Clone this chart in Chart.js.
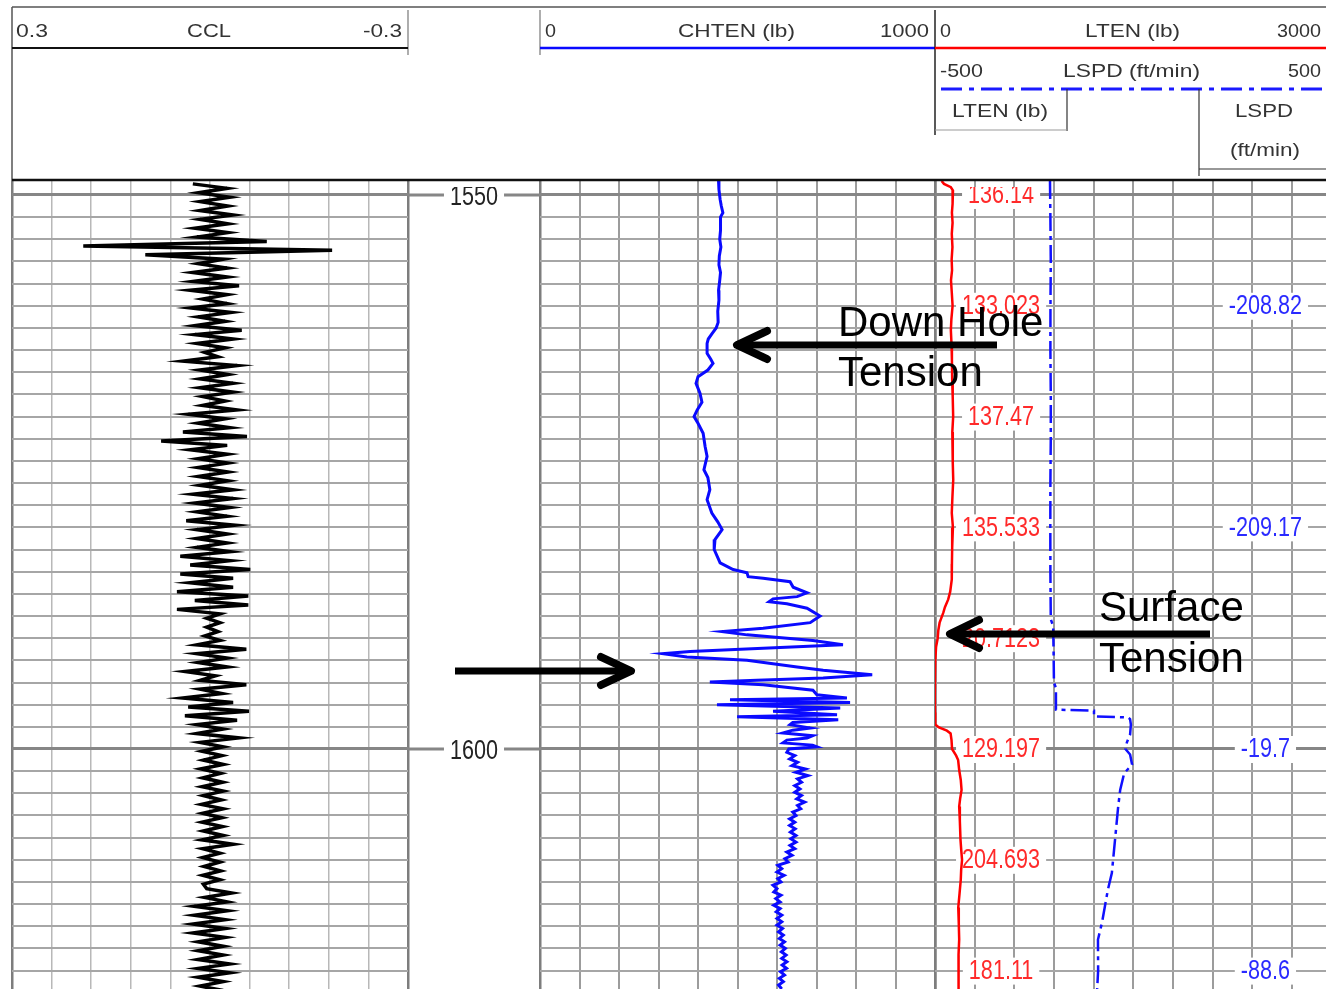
<!DOCTYPE html>
<html>
<head>
<meta charset="utf-8">
<title>Tension log</title>
<script src="https://cdn.jsdelivr.net/npm/chart.js"></script>
<style>
  html, body { margin: 0; padding: 0; background: #fff; overflow: hidden; }
  #page { position: relative; width: 1326px; height: 989px; overflow: hidden; background: #fff; }
  #page canvas { position: absolute; }
  #overlay { position: absolute; left: 0; top: 0; pointer-events: none; }
</style>
</head>
<body>
<div id="page">
  <canvas id="cclChart" width="420" height="808" style="left:0;top:181px"></canvas>
  <canvas id="chtenChart" width="529" height="808" style="left:408px;top:181px"></canvas>
  <canvas id="ltenChart" width="401" height="808" style="left:925px;top:181px"></canvas>

  <svg id="overlay" width="1326" height="989" xmlns="http://www.w3.org/2000/svg">
    <!-- header frame -->
    <g fill="none">
      <line x1="12" y1="7" x2="1326" y2="7" stroke="#555" stroke-width="1.5"/>
      <line x1="12" y1="7" x2="12" y2="181" stroke="#555" stroke-width="1.5"/>
      <line x1="12" y1="180" x2="1326" y2="180" stroke="#111" stroke-width="2.5"/>
      <line x1="408" y1="10" x2="408" y2="55" stroke="#777" stroke-width="1.2"/>
      <line x1="12" y1="48" x2="408" y2="48" stroke="#111" stroke-width="2"/>
      <line x1="540" y1="10" x2="540" y2="55" stroke="#777" stroke-width="1.2"/>
      <line x1="540" y1="48" x2="935" y2="48" stroke="#0a0aff" stroke-width="2.5"/>
      <line x1="935" y1="10" x2="935" y2="135" stroke="#222" stroke-width="1.5"/>
      <line x1="935" y1="48" x2="1326" y2="48" stroke="#ff0000" stroke-width="2.5"/>
      <line x1="941" y1="89" x2="1326" y2="89" stroke="#1a1aff" stroke-width="3" stroke-dasharray="21 7 5 7"/>
      <line x1="1067" y1="89" x2="1067" y2="131" stroke="#333" stroke-width="1.2"/>
      <line x1="935" y1="130" x2="1067" y2="130" stroke="#999" stroke-width="1.2"/>
      <line x1="1199" y1="89" x2="1199" y2="176" stroke="#333" stroke-width="1.2"/>
      <line x1="1199" y1="169" x2="1326" y2="169" stroke="#333" stroke-width="1.2"/>
    </g>
    <g font-family="'Liberation Sans', Arial, sans-serif" font-size="19" fill="#333">
      <text x="16" y="37" textLength="32" lengthAdjust="spacingAndGlyphs">0.3</text>
      <text x="187" y="37" textLength="44" lengthAdjust="spacingAndGlyphs">CCL</text>
      <text x="363" y="37" textLength="39" lengthAdjust="spacingAndGlyphs">-0.3</text>
      <text x="545" y="37" textLength="11" lengthAdjust="spacingAndGlyphs">0</text>
      <text x="678" y="37" textLength="117" lengthAdjust="spacingAndGlyphs">CHTEN (lb)</text>
      <text x="880" y="37" textLength="49" lengthAdjust="spacingAndGlyphs">1000</text>
      <text x="940" y="37" textLength="11" lengthAdjust="spacingAndGlyphs">0</text>
      <text x="1085" y="37" textLength="95" lengthAdjust="spacingAndGlyphs">LTEN (lb)</text>
      <text x="1277" y="37" textLength="44" lengthAdjust="spacingAndGlyphs">3000</text>
      <text x="940" y="77" textLength="43" lengthAdjust="spacingAndGlyphs">-500</text>
      <text x="1063" y="77" textLength="137" lengthAdjust="spacingAndGlyphs">LSPD (ft/min)</text>
      <text x="1288" y="77" textLength="33" lengthAdjust="spacingAndGlyphs">500</text>
      <text x="952" y="117" textLength="96" lengthAdjust="spacingAndGlyphs">LTEN (lb)</text>
      <text x="1235" y="117" textLength="58" lengthAdjust="spacingAndGlyphs">LSPD</text>
      <text x="1230" y="156" textLength="70" lengthAdjust="spacingAndGlyphs">(ft/min)</text>
    </g>

    <!-- call-outs -->
    <g font-family="'Liberation Sans', Arial, sans-serif" font-size="42" fill="#000">
      <text x="838" y="336">Down Hole</text>
      <text x="838" y="386">Tension</text>
      <text x="1099" y="621">Surface</text>
      <text x="1099" y="672">Tension</text>
    </g>
    <g stroke="#000" stroke-width="7" fill="none">
      <line x1="997" y1="345" x2="740" y2="345"/>
      <line x1="1210" y1="634" x2="952" y2="634"/>
      <line x1="455" y1="671" x2="628" y2="671"/>
    </g>
    <g stroke="#000" stroke-width="8" fill="none" stroke-linecap="round" stroke-linejoin="round">
      <polyline points="767,331 737,345 767,359"/>
      <polyline points="979,620 950,634 979,648"/>
      <polyline points="601,657 631,671 601,685"/>
    </g>
  </svg>
</div>

<script>
// depth window shown (ft) and grid
const depthTop = 1548.74;
const depthBottom = 1621.66;
const depthGrid = [];
for (let d = 1550; d <= 1620; d += 2) depthGrid.push(d);
const depthLabels = [1550, 1600];

// track grids
const cclGrid = [0.3, 0.24, 0.18, 0.12, 0.06, 0, -0.06, -0.12, -0.18, -0.24, -0.3];
const chtenGrid = [0, 100, 200, 300, 400, 500, 600, 700, 800, 900, 1000];
const ltenGrid = [0, 300, 600, 900, 1200, 1500, 1800, 2100, 2400, 2700];

// CCL, sampled every 0.4 ft from 1549.0 ft
const cclTop = 1549.0;
const cclStep = 0.4;
const cclValue = [
  0.026, -0.026, 0.017, -0.030, 0.015, -0.027, 0.015, -0.035, 0.015, -0.027,
  0.023, -0.027, 0.020, -0.086, 0.192, -0.185, 0.098, -0.020, 0.018, -0.026,
  0.026, -0.026, 0.026, -0.044, 0.030, -0.026, 0.011, -0.026, 0.029, -0.032,
  0.018, -0.023, 0.023, -0.048, 0.023, -0.035, 0.020, -0.023, 0.008, -0.012,
  0.041, -0.041, 0.015, -0.027, 0.015, -0.035, 0.015, -0.035, 0.011, -0.023,
  0.011, -0.041, 0.033, -0.023, 0.018, -0.030, 0.041, -0.056, 0.074, -0.026,
  0.030, -0.026, 0.018, -0.027, 0.018, -0.027, 0.018, -0.027, 0.015, -0.035,
  0.026, -0.035, 0.023, -0.030, 0.020, -0.026, 0.036, -0.038, 0.020, -0.026,
  0.020, -0.026, 0.020, -0.030, 0.045, -0.030, 0.030, -0.061, 0.045, -0.035,
  0.030, -0.035, 0.050, -0.058, 0.023, -0.058, 0.050, -0.015, 0.005, -0.015,
  0.005, -0.012, 0.008, -0.015, 0.020, -0.055, 0.020, -0.026, 0.018, -0.026,
  0.038, -0.008, 0.015, -0.055, 0.015, -0.018, 0.041, -0.035, 0.033, -0.059,
  0.038, -0.041, 0.020, -0.020, 0.020, -0.044, 0.015, -0.020, 0.012, -0.018,
  0.010, -0.020, 0.014, -0.016, 0.011, -0.019, 0.012, -0.020, 0.010, -0.017,
  0.013, -0.020, 0.011, -0.018, 0.012, -0.019, 0.010, -0.020, 0.012, -0.035,
  0.011, -0.015, 0.011, -0.015, 0.009, -0.016, 0.011, -0.015, 0.010, 0.005,
  -0.033, 0.008, -0.026, 0.024, -0.026, 0.024, -0.023, 0.026, -0.023, 0.026,
  -0.023, 0.018, -0.020, 0.018, -0.020, 0.018, -0.030, 0.018, -0.030, 0.018,
  -0.020, 0.015, -0.020
];

// CHTEN (lb)
const chtenDepth = [
  1548.74, 1549.5, 1550.4, 1551.0, 1551.6, 1552.0, 1552.4, 1553.2, 1554.0, 1554.7,
  1555.5, 1556.3, 1557.0, 1557.7, 1558.6, 1559.5, 1560.5, 1561.5, 1562.0, 1562.5,
  1563.0, 1563.4, 1564.3, 1564.8, 1565.2, 1565.8, 1566.4, 1567.0, 1567.9, 1568.7,
  1569.4, 1570.0, 1570.6, 1571.5, 1572.7, 1573.6, 1574.8, 1575.5, 1576.6, 1577.5,
  1578.7, 1579.5, 1580.2, 1581.1, 1582.0, 1583.2, 1583.8, 1584.1, 1584.45, 1584.6,
  1584.9, 1585.4, 1585.9, 1586.25, 1586.45, 1586.7, 1586.9, 1587.3, 1588.0, 1588.6,
  1589.1, 1589.4, 1589.7, 1590.2, 1590.6, 1590.9, 1591.2, 1591.4, 1591.7, 1592.0,
  1592.6, 1592.9, 1593.3, 1593.6, 1593.8, 1593.95, 1594.2, 1594.7, 1595.1, 1595.4,
  1595.55, 1595.8, 1596.0, 1596.3, 1596.6, 1596.9, 1597.1, 1597.35, 1597.6, 1597.8,
  1598.1, 1598.3, 1598.55, 1598.8, 1599.0, 1599.2, 1599.45, 1599.65, 1599.8, 1600.0,
  1600.3, 1600.6, 1600.9, 1601.2, 1601.5, 1601.8, 1602.1, 1602.4, 1602.7, 1603.0,
  1603.3, 1603.6, 1603.9, 1604.2, 1604.5, 1604.8, 1605.1, 1605.4, 1605.7, 1606.0,
  1606.3, 1606.6, 1606.9, 1607.2, 1607.5, 1607.8, 1608.1, 1608.4, 1608.7, 1609.0,
  1609.3, 1609.6, 1609.9, 1610.2, 1610.5, 1610.8, 1611.1, 1611.4, 1611.7, 1612.0,
  1612.3, 1612.6, 1612.9, 1613.2, 1613.5, 1613.8, 1614.1, 1614.4, 1614.7, 1615.0,
  1615.3, 1615.6, 1615.9, 1616.2, 1616.5, 1616.8, 1617.1, 1617.4, 1617.7, 1618.0,
  1618.3, 1618.6, 1618.9, 1619.2, 1619.5, 1619.8, 1620.1, 1620.4, 1620.7, 1621.0,
  1621.3, 1621.66
];
const chtenValue = [
  452, 453, 456, 459, 463, 457, 456, 458, 455, 458,
  454, 453, 457, 455, 452, 453, 450, 451, 446, 436,
  426, 423, 423, 432, 438, 425, 400, 395, 405, 410,
  398, 390, 400, 413, 418, 423, 415, 425, 430, 423,
  435, 450, 461, 443, 441, 456, 489, 524, 527, 565,
  633, 641, 676, 651, 590, 580, 625, 676, 709, 684,
  565, 461, 524, 691, 767, 565, 380, 311, 372, 524,
  651, 717, 841, 717, 549, 430, 565, 691, 701, 777,
  481, 785, 448, 760, 590, 752, 499, 755, 640, 633,
  684, 640, 615, 690, 676, 625, 615, 690, 701, 630,
  625, 645, 632, 652, 638, 672, 648, 678, 652, 662,
  645, 658, 645, 662, 650, 670, 652, 660, 640, 648,
  632, 645, 632, 646, 634, 648, 635, 648, 633, 645,
  625, 638, 620, 628, 602, 612, 600, 618, 602, 610,
  590, 600, 592, 610, 597, 608, 592, 608, 598, 612,
  600, 612, 600, 614, 604, 616, 606, 619, 608, 621,
  611, 623, 612, 625, 613, 624, 609, 619, 606, 616,
  604, 612
];

// LTEN (lb)
const ltenDepth = [
  1548.74, 1549.0, 1549.3, 1549.6, 1550.0, 1550.8, 1551.6, 1552.5, 1553.5, 1554.7,
  1555.8, 1556.8, 1557.7, 1558.8, 1560.0, 1561.2, 1562.2, 1563.5, 1564.9, 1566.7,
  1568.2, 1570.0, 1571.4, 1572.8, 1574.2, 1575.7, 1577.2, 1578.7, 1580.0, 1581.8,
  1583.3, 1584.7, 1585.8, 1586.5, 1587.2, 1587.7, 1588.6, 1589.3, 1590.0, 1590.8,
  1592.0, 1593.8, 1595.3, 1596.7, 1597.8, 1598.05, 1598.35, 1598.6, 1599.2, 1600.0,
  1600.6, 1601.0, 1601.9, 1602.8, 1603.7, 1604.5, 1605.2, 1606.5, 1608.2, 1609.2,
  1610.0, 1610.9, 1611.8, 1613.0, 1614.3, 1615.8, 1617.2, 1618.6, 1620.0, 1620.8,
  1621.66
];
const ltenValue = [
  50, 68, 120, 136, 136.14, 130, 128, 133, 127, 132,
  126, 129, 121, 127, 133.023, 124, 120, 125, 128, 130,
  134, 137.47, 131, 133, 136, 138, 132, 127, 135.533, 130,
  128, 127, 115, 100, 75, 63, 35, 25, 20.7123, 8,
  2, 0, -1, 0, 2, 30, 90, 118, 125, 129.197,
  160, 175, 183, 195, 201, 190, 183, 188, 193, 199,
  204.693, 198, 195, 186, 176, 180, 183, 178, 181.11, 178,
  176
];

// LSPD (ft/min)
const lspdDepth = [
  1548.74, 1552, 1556, 1560, 1564, 1568, 1572, 1576, 1580, 1584,
  1588.3, 1588.9, 1591, 1594.0, 1594.5, 1596.45, 1596.55, 1597.05, 1597.15, 1597.3,
  1597.8, 1598.7, 1599.4, 1600, 1600.5, 1601.4, 1602.2, 1603.7, 1605.2, 1608.2,
  1611.2, 1612.7, 1615.7, 1617.2, 1620, 1621.66
];
const lspdValue = [
  -210, -209, -208, -208.82, -209, -208, -208, -209, -209.17, -209,
  -208, -202, -201, -200, -195, -195, -99, -99, -13, -8,
  -6, -8, -16, -19.7, -8, -3, -23, -33, -38, -46,
  -54, -64, -79, -89, -88.6, -91
];

// value read-outs printed in the LTEN/LSPD track
const ltenMarkDepth = [1550, 1560, 1570, 1580, 1590, 1600, 1610, 1620];
const ltenMarkText = ['136.14', '133.023', '137.47', '135.533', '20.7123', '129.197', '204.693', '181.11'];
const lspdMarkDepth = [1560, 1580, 1600, 1620];
const lspdMarkText = ['-208.82', '-209.17', '-19.7', '-88.6'];

const toPoints = (depths, values) => values.map((v, i) => ({ x: v, y: depths[i] }));
const cclDepth = cclValue.map((v, i) => cclTop + i * cclStep);

function narrowLabel(ctx, text, cx, cy, color) {
  ctx.save();
  ctx.font = '27px "Liberation Sans", Arial, sans-serif';
  const w = ctx.measureText(text).width * 0.8;
  ctx.fillStyle = '#ffffff';
  ctx.fillRect(cx - w / 2 - 6, cy - 13, w + 12, 27);
  ctx.translate(cx, cy);
  ctx.scale(0.8, 1);
  ctx.fillStyle = color;
  ctx.textAlign = 'center';
  ctx.textBaseline = 'middle';
  ctx.fillText(text, 0, 1);
  ctx.restore();
}

// the log's top few pixels sit under the header edge
function clipBelowHeader(ctx, chart) {
  ctx.beginPath();
  ctx.rect(0, 6, chart.width, chart.height);
  ctx.clip();
}

function depthAxis(width) {
  return {
    type: 'linear', position: 'left', reverse: true,
    min: depthTop, max: depthBottom,
    afterBuildTicks: s => { s.ticks = depthGrid.map(v => ({ value: v })); },
    afterFit: s => { s.width = width; },
    ticks: { display: false },
    border: { display: false },
    grid: {
      drawTicks: false,
      color: c => c.tick && depthLabels.includes(c.tick.value) ? '#868686' : '#a6a6a6',
      lineWidth: c => c.tick && depthLabels.includes(c.tick.value) ? 3 : 2
    }
  };
}

function valueAxis(min, max, grid, reverse, color, width, edges) {
  return {
    type: 'linear', position: 'bottom', min: min, max: max, reverse: reverse,
    afterBuildTicks: s => { s.ticks = grid.map(v => ({ value: v })); },
    afterFit: s => { s.height = 0; },
    ticks: { display: false },
    border: { display: false },
    grid: {
      drawTicks: false,
      color: c => c.tick && edges.includes(c.tick.value) ? '#7d7d7d' : color,
      lineWidth: c => c.tick && edges.includes(c.tick.value) ? 2.5 : width
    }
  };
}

function baseOptions(padding, scales) {
  return {
    responsive: false,
    maintainAspectRatio: false,
    animation: false,
    events: [],
    layout: { padding: padding, autoPadding: false },
    plugins: { legend: { display: false }, tooltip: { enabled: false } },
    scales: scales
  };
}

function curve(points, color, width, extra) {
  return Object.assign({
    data: points,
    showLine: true,
    borderColor: color,
    borderWidth: width,
    pointRadius: 0,
    tension: 0,
    fill: false
  }, extra || {});
}

// track 1: CCL
new Chart(document.getElementById('cclChart'), {
  type: 'scatter',
  data: { datasets: [curve(toPoints(cclDepth, cclValue), '#000000', 3.5)] },
  options: baseOptions({ left: 12, right: 12 }, {
    x: valueAxis(-0.3, 0.3, cclGrid, true, '#b8b8b8', 1.5, [0.3, -0.3]),
    y: depthAxis(0)
  })
});

// depth track + track 2: CHTEN
const depthLabelPlugin = {
  id: 'depthLabels',
  afterDraw(chart) {
    const { ctx, chartArea } = chart;
    const y = chart.scales.y;
    ctx.save();
    clipBelowHeader(ctx, chart);
    depthLabels.forEach(d => {
      const py = y.getPixelForValue(d);
      ctx.strokeStyle = '#868686';
      ctx.lineWidth = 3;
      ctx.beginPath();
      ctx.moveTo(0, py);
      ctx.lineTo(chartArea.left, py);
      ctx.stroke();
      narrowLabel(ctx, String(d), chartArea.left / 2, py + 2, '#222');
    });
    ctx.restore();
  }
};

new Chart(document.getElementById('chtenChart'), {
  type: 'scatter',
  data: { datasets: [curve(toPoints(chtenDepth, chtenValue), '#0a0aff', 3)] },
  options: baseOptions({ left: 0, right: 2 }, {
    x: valueAxis(0, 1000, chtenGrid, false, '#9c9c9c', 2, [0, 1000]),
    y: depthAxis(132)
  }),
  plugins: [depthLabelPlugin]
});

// track 3: LTEN + LSPD (right edge of the track is cut by the picture)
const markPlugin = {
  id: 'marks',
  beforeDatasetsDraw(chart) {
    const { ctx } = chart;
    const x = chart.scales.x, y = chart.scales.y;
    ctx.save();
    clipBelowHeader(ctx, chart);
    ltenMarkDepth.forEach((d, i) => {
      narrowLabel(ctx, ltenMarkText[i], x.getPixelForValue(500), y.getPixelForValue(d), '#ff2a2a');
    });
    lspdMarkDepth.forEach((d, i) => {
      narrowLabel(ctx, lspdMarkText[i], x.getPixelForValue(2500), y.getPixelForValue(d), '#2a2aff');
    });
    ctx.restore();
  }
};

const ltenScales = {
  x: valueAxis(0, 2958.4, ltenGrid, false, '#9c9c9c', 2, [0]),
  x2: { type: 'linear', display: false, min: -500, max: 486.1 },
  y: depthAxis(0)
};

new Chart(document.getElementById('ltenChart'), {
  type: 'scatter',
  data: {
    datasets: [
      curve(toPoints(ltenDepth, ltenValue), '#ff0000', 2.5, { xAxisID: 'x' }),
      curve(toPoints(lspdDepth, lspdValue), '#1010ff', 2.5, { xAxisID: 'x2', borderDash: [18, 5, 4, 5] })
    ]
  },
  options: baseOptions({ left: 10, right: 0 }, ltenScales),
  plugins: [markPlugin]
});
</script>
</body>
</html>
